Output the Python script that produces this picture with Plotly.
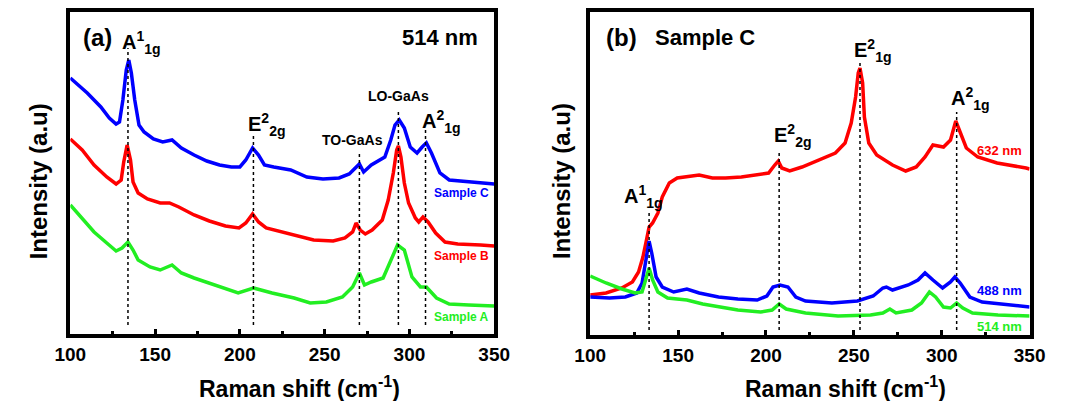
import plotly.graph_objects as go

# ---------------- data: panel (a), 514 nm excitation ----------------
shift_a_sampleC = [100, 105, 110, 118, 123, 127, 129, 131, 133, 134.5, 136, 138, 140.5, 143.5, 149, 154.5,
                   160, 165.5, 173, 180.5, 188, 195, 200, 203.5, 207.5, 211, 214.5, 220, 230, 239.5, 249,
                   258.5, 264.5, 270.5, 273, 277.5, 285.5, 289, 291.5, 294, 297, 300.5, 304.5, 307.5, 310,
                   313, 318, 323.5, 335, 350]
int_a_sampleC = [256, 249, 241, 227, 216, 210, 212, 234, 264, 274, 261, 234, 209, 202, 195, 192,
                 194, 186, 179, 173, 169, 167, 167, 174, 186, 179, 169, 167, 164, 157, 155,
                 156, 160, 170, 162, 169, 177, 194, 209, 214, 206, 187, 181, 187, 191,
                 181, 161, 154, 152, 150]

shift_a_sampleB = [100, 107, 114, 121.5, 127, 130, 131.5, 133.5, 135.5, 137, 140, 145.5, 153, 158.5, 164,
                   173, 182, 191.5, 199.5, 203.5, 207.5, 211, 215.5, 220.5, 232, 243.5, 255, 262, 266.5,
                   268.5, 271, 274, 278, 284, 287.5, 290.5, 292.5, 293.5, 295, 297, 299.5, 303.5, 305.5,
                   308, 311, 315.5, 321, 328.5, 342, 350]
int_a_sampleB = [195, 184, 169, 157, 150, 154, 172, 189, 174, 152, 141, 135, 131, 131, 127,
                 119, 113, 108, 106, 111, 120, 112, 106, 104, 99, 94, 93, 96, 102,
                 111, 104, 100, 104, 114, 134, 161, 184, 188, 177, 151, 131, 116, 112,
                 117, 112, 101, 92, 90, 89, 88]

shift_a_sampleA = [100, 107, 114, 121.5, 127, 130.5, 134, 137, 140, 147, 153, 160, 165.5, 173, 182, 191.5,
                   199, 208, 219, 232, 241.5, 251, 260.5, 266.5, 270.5, 273.5, 277.5, 284.5, 289, 293,
                   297, 301.5, 306.5, 310, 316, 323.5, 335, 350]
int_a_sampleA = [129, 116, 102, 91, 83, 86, 92, 84, 74, 67, 64, 69, 61, 56, 51, 45,
                 41, 46, 41, 36, 31, 32, 37, 47, 61, 49, 52, 56, 74, 89,
                 84, 57, 47, 47, 36, 30, 29, 28]

# ---------------- data: panel (b), Sample C at three wavelengths ----------------
shift_b_632 = [100, 109, 118, 124, 127.5, 130, 132, 133.5, 135.5, 138.5, 141, 145, 149.5, 155, 162, 169.5,
               177, 186, 195, 201.5, 205, 207, 209, 213.5, 220.5, 230, 239.5, 245, 248.5, 251, 252.5,
               253.5, 255, 256, 258.5, 263, 267.5, 269.5, 272, 279.5, 285.5, 290.5, 295, 301, 305, 308,
               310.5, 314, 320.5, 331.5, 348, 350]
int_b_632 = [40, 42, 47, 53, 63, 78, 95, 108, 112, 122, 138, 152, 157, 158, 160, 157,
             157, 158, 160, 162, 170, 174, 167, 164, 168, 175, 182, 192, 212, 238, 262,
             267, 252, 218, 192, 180, 175, 173, 170, 164, 168, 178, 190, 188, 195, 214,
             203, 187, 178, 172, 167, 166]

shift_b_488 = [100, 111, 120, 126.5, 129.5, 131.5, 133.5, 135, 137.5, 141, 147.5, 155, 162, 173, 184, 195,
               200.5, 204, 208, 212.5, 217, 222.5, 237.5, 252, 261, 266.5, 268.5, 272, 281, 286.5,
               290.5, 295, 300.5, 305, 307.5, 310.5, 316, 323, 336, 350]
int_b_488 = [38, 37, 38, 42, 52, 75, 94, 82, 58, 48, 43, 46, 42, 38, 36, 35,
             39, 48, 50, 48, 38, 34, 32, 34, 39, 47, 48, 45, 50, 55,
             62, 55, 47, 53, 58, 52, 38, 33, 31, 28]

shift_b_514 = [100, 109, 118, 125.5, 129.5, 132, 133.5, 135.5, 138.5, 144, 155, 164, 173, 184, 197, 203.5,
               207.5, 211.5, 222.5, 241, 259.5, 266.5, 270.5, 274, 283, 288.5, 293, 296.5, 301, 305,
               308.5, 312, 317.5, 332, 350]
int_b_514 = [59, 52, 46, 42, 43, 58, 67, 55, 43, 37, 35, 31, 28, 25, 23, 25,
             31, 26, 22, 19, 20, 22, 26, 22, 25, 32, 43, 38, 28, 27,
             32, 27, 22, 20, 19]

# mode assignments (wavenumber of each marked peak, and top of its guide line)
modes_a = [134, 208, 270.5, 293.5, 309.5]
guide_top_a = [286, 201, 182, 222, 204]
modes_b = [133.5, 207.5, 253.5, 308.5]
guide_top_b = [125, 185, 275, 223]

BLUE, RED, GREEN = "#0000ff", "#ff0000", "#22ee22"
FONT = "Liberation Sans, Arial, sans-serif"
W, H = 1065, 401


def px(x):
    return x / W


def py(y):
    return 1 - y / H


fig = go.Figure()

for xs, ys, col in [(shift_a_sampleC, int_a_sampleC, BLUE),
                    (shift_a_sampleB, int_a_sampleB, RED),
                    (shift_a_sampleA, int_a_sampleA, GREEN)]:
    fig.add_trace(go.Scatter(x=xs, y=ys, mode="lines", line=dict(color=col, width=3.5),
                             xaxis="x", yaxis="y", showlegend=False, hoverinfo="skip"))

for xs, ys, col in [(shift_b_632, int_b_632, RED),
                    (shift_b_488, int_b_488, BLUE),
                    (shift_b_514, int_b_514, GREEN)]:
    fig.add_trace(go.Scatter(x=xs, y=ys, mode="lines", line=dict(color=col, width=3.5),
                             xaxis="x2", yaxis="y2", showlegend=False, hoverinfo="skip"))

# dashed guides at the Raman modes
shapes = []
for m, top in zip(modes_a, guide_top_a):
    shapes.append(dict(type="line", xref="x", yref="y", x0=m, x1=m, y0=9, y1=top,
                       line=dict(color="black", width=1.5, dash="3px,3px")))
for m, top in zip(modes_b, guide_top_b):
    shapes.append(dict(type="line", xref="x2", yref="y2", x0=m, x1=m, y0=5, y1=top,
                       line=dict(color="black", width=1.5, dash="3px,3px")))

ann = []


def label(text, x, y, size, color="black", xanchor="center", yanchor="middle", textangle=0):
    ann.append(dict(text=text, x=px(x), y=py(y), xref="paper", yref="paper", showarrow=False,
                    xanchor=xanchor, yanchor=yanchor, textangle=textangle,
                    font=dict(family=FONT, size=size, color=color, weight="bold")))


# panel (a)
label("(a)", 84, 38, 24)
label("514 nm", 437, 38, 22)
label("A<sup>1</sup><sub>1g</sub>", 107, 42, 20, xanchor="left")
label("E<sup>2</sup><sub>2g</sub>", 237, 124, 20, xanchor="left")
label("A<sup>2</sup><sub>1g</sub>", 416, 122, 20, xanchor="left")
label("TO-GaAs", 347, 140, 14)
label("LO-GaAs", 394, 96, 14)
label("Sample C", 490, 193, 12, BLUE, xanchor="right")
label("Sample B", 490, 256, 12, RED, xanchor="right")
label("Sample A", 490, 317, 12, GREEN, xanchor="right")

# panel (b)
label("(b)", 624, 38, 24)
label("Sample C", 657, 38, 22, xanchor="left")
label("E<sup>2</sup><sub>1g</sub>", 862, 50, 20, xanchor="left")
label("A<sup>2</sup><sub>1g</sub>", 962, 98, 20, xanchor="left")
label("E<sup>2</sup><sub>2g</sub>", 779, 135, 20, xanchor="left")
label("A<sup>1</sup><sub>1g</sub>", 625, 197, 20, xanchor="left")
label("632 nm", 1039, 150, 13, RED, xanchor="right")
label("488 nm", 1039, 290, 13, BLUE, xanchor="right")
label("514 nm", 1039, 326, 13, GREEN, xanchor="right")

# axis titles
label("Raman shift (cm<sup>-1</sup>)", 292, 387, 23)
label("Raman shift (cm<sup>-1</sup>)", 855, 387, 23)
label("Intensity (a.u)", 23, 181, 24, textangle=-90)
label("Intensity (a.u)", 562, 181, 24, textangle=-90)

xcommon = dict(range=[100, 350], dtick=50, tick0=100, ticks="inside", ticklen=5, tickwidth=3,
               tickcolor="black", showline=True, linewidth=3.5, linecolor="black", mirror=True,
               showgrid=False, zeroline=False,
               tickfont=dict(family=FONT, size=19, color="black", weight="bold"),
               minor=dict(dtick=25, tick0=100, ticks="inside", ticklen=3, tickwidth=3,
                          tickcolor="black", showgrid=False))
ycommon = dict(showticklabels=False, ticks="", showline=True, linewidth=3.5, linecolor="black",
               mirror=True, showgrid=False, zeroline=False)

fig.update_layout(
    width=W, height=H, autosize=False,
    margin=dict(l=0, r=0, t=0, b=0),
    paper_bgcolor="white", plot_bgcolor="white",
    xaxis=dict(domain=[px(56), px(493)], anchor="y", **xcommon),
    yaxis=dict(domain=[py(334), py(12)], range=[0, 322], anchor="x", **ycommon),
    xaxis2=dict(domain=[px(592), px(1045)], anchor="y2", **xcommon),
    yaxis2=dict(domain=[py(335), py(12)], range=[0, 323], anchor="x2", **ycommon),
    shapes=shapes,
    annotations=ann,
)

fig.write_html("out.html")
